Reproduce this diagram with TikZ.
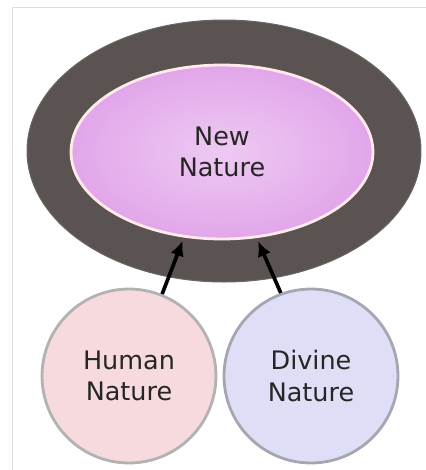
\documentclass[tikz,border=0pt]{standalone}
\usepackage{fontspec}
\setmainfont{DejaVu Sans}
\usepackage{tikz}
\usetikzlibrary{arrows.meta,positioning,shapes.geometric}
\usepackage{xcolor}
\definecolor{ringgray}{HTML}{5A5352}
\definecolor{newpink}{HTML}{E2A6EA}
\definecolor{humanpink}{HTML}{F6DADE}
\definecolor{divineblue}{HTML}{DEDEF6}

\begin{document}
\begin{tikzpicture}[x=0.02cm,y=-0.02cm,>=Latex, every node/.style={font=\fontsize{14.5}{18}\selectfont, text=black!85}]
\tikzstyle{ringbox}=[ellipse, draw=black!60, line width=0.6pt, fill=ringgray, minimum width=7.88cm, minimum height=5.24cm]
\tikzstyle{natbox}=[ellipse, draw=pink!35!white, line width=1.6pt, inner color=newpink!60!white, outer color=newpink, minimum width=6.04cm, minimum height=3.48cm, align=center]
\tikzstyle{ball}=[circle, line width=1.6pt, minimum size=3.48cm, align=center, inner sep=0pt]
\useasboundingbox (0,0) rectangle (426,470);
% frame
\draw[black!13, line width=0.5pt] (12,470) -- (12,7) -- (426,7);
\node[ringbox] (ring) at (224,151) {};
\node[natbox] (newnat) at (222,152) {New\\Nature};
\node[ball, draw=black!30, fill=humanpink] (human) at (129,376) {Human\\Nature};
\node[ball, draw=blue!15!black!35, fill=divineblue] (divine) at (311,376) {Divine\\Nature};
\draw[->, line width=2.1pt, shorten >=2pt, -{Latex[length=0.3cm,width=0.28cm]}] (human.68) -- (newnat.246);
\draw[->, line width=2.1pt, shorten >=2pt, -{Latex[length=0.3cm,width=0.28cm]}] (divine.110) -- (newnat.292);
\end{tikzpicture}
\end{document}
